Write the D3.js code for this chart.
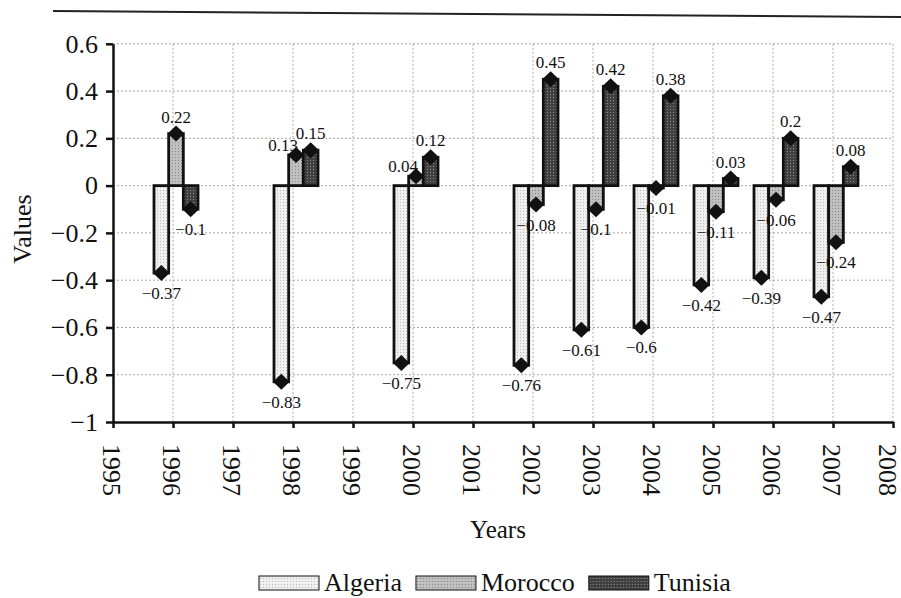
<!DOCTYPE html>
<html>
<head>
<meta charset="utf-8">
<script src="https://cdn.jsdelivr.net/npm/d3@7"></script>
<style>
  body { margin: 0; background: #fff; }
  svg { display: block; }
</style>
</head>
<body>
<div class="chart"></div>
<script>
// values
const series = ["Algeria", "Morocco", "Tunisia"];
const years = [1996, 1998, 2000, 2002, 2003, 2004, 2005, 2006, 2007];
const algeria = [-0.37, -0.83, -0.75, -0.76, -0.61, -0.6, -0.42, -0.39, -0.47];
const morocco = [0.22, 0.13, 0.04, -0.08, -0.1, -0.01, -0.11, -0.06, -0.24];
const tunisia = [-0.1, 0.15, 0.12, 0.45, 0.42, 0.38, 0.03, 0.2, 0.08];
const yTicks = [0.6, 0.4, 0.2, 0, -0.2, -0.4, -0.6, -0.8, -1];
const xTicks = d3.range(1995, 2009);

const W = 901, H = 598;
const plot = {left: 113, right: 893, top: 43.8, bottom: 422};
const serif = "'Liberation Serif', 'DejaVu Serif', serif";

const svg = d3.select(".chart").append("svg")
    .attr("width", W)
    .attr("height", H);

const x = d3.scaleLinear().domain([1995, 2008]).range([plot.left, plot.right]);
const y = d3.scaleLinear().domain([-1, 0.6]).range([plot.bottom, plot.top]);
const inner = d3.scaleBand().domain(series).range([-19, 25]);
const fmt = d3.format("~g");

// scanned-print look: light dotted fills
const fills = {
    Algeria: {base: "#efefef", dot: "#b9b9b9"},
    Morocco: {base: "#c0c0c0", dot: "#858585"},
    Tunisia: {base: "#404040", dot: "#8e8e8e"}
};
const defs = svg.append("defs");
series.forEach(s => {
    const p = defs.append("pattern")
        .attr("id", "pat-" + s)
        .attr("width", 3).attr("height", 3)
        .attr("patternUnits", "userSpaceOnUse");
    p.append("rect").attr("width", 3).attr("height", 3).attr("fill", fills[s].base);
    p.append("rect").attr("x", 1).attr("y", 1).attr("width", 1).attr("height", 1).attr("fill", fills[s].dot);
});

// page rule at the top of the scan
svg.append("line")
    .attr("x1", 53).attr("y1", 11).attr("x2", W).attr("y2", 17)
    .attr("stroke", "#222").attr("stroke-width", 2);

// grid
const grid = svg.append("g").attr("stroke", "#a5a5a5").attr("stroke-width", 1).attr("stroke-dasharray", "2,2");
grid.selectAll(".hg").data(yTicks.filter(d => d > -1)).join("line")
    .attr("x1", plot.left).attr("x2", plot.right)
    .attr("y1", d => y(d)).attr("y2", d => y(d));
grid.selectAll(".vg").data(xTicks.filter(d => d > 1995)).join("line")
    .attr("x1", d => x(d)).attr("x2", d => x(d))
    .attr("y1", plot.top).attr("y2", plot.bottom);

// bars
const rows = [];
years.forEach((yr, i) => {
    rows.push({year: yr, s: "Algeria", v: algeria[i]});
    rows.push({year: yr, s: "Morocco", v: morocco[i]});
    rows.push({year: yr, s: "Tunisia", v: tunisia[i]});
});
const bw = inner.bandwidth();
const cx = d => x(d.year) + inner(d.s) + bw / 2;

svg.append("g").selectAll("rect").data(rows).join("rect")
    .attr("x", d => x(d.year) + inner(d.s))
    .attr("width", bw)
    .attr("y", d => Math.min(y(0), y(d.v)))
    .attr("height", d => Math.abs(y(0) - y(d.v)))
    .attr("fill", d => "url(#pat-" + d.s + ")")
    .attr("stroke", "#111")
    .attr("stroke-width", 2.8);

// diamond markers at the bar ends
const hw = bw / 2 + 1, hh = 8;
svg.append("g").selectAll("path").data(rows).join("path")
    .attr("d", d => {
        const px = cx(d), py = y(d.v);
        return `M${px},${py - hh}L${px + hw},${py}L${px},${py + hh}L${px - hw},${py}Z`;
    })
    .attr("fill", "#111");

// morocco labels get squeezed left when tunisia is also above zero
const squeezed = d => d.s === "Morocco" && d.v > 0 &&
    rows.find(r => r.year === d.year && r.s === "Tunisia").v > 0;

const labels = svg.append("g").attr("font-size", 17);
labels.selectAll("text").data(rows).join("text")
    .attr("x", d => squeezed(d) ? cx(d) + 2 : cx(d))
    .attr("y", d => squeezed(d) ? y(d.v) - 4 : (d.v >= 0 ? y(d.v) - 11 : y(d.v) + 26))
    .attr("text-anchor", d => squeezed(d) ? "end" : "middle")
    .text(d => fmt(d.v));

// axes
const yAxis = svg.append("g")
    .attr("transform", `translate(${plot.left},0)`)
    .call(d3.axisLeft(y).tickValues(yTicks).tickFormat(fmt).tickSize(7).tickSizeOuter(0).tickPadding(8));
yAxis.select(".domain").attr("stroke", "#111").attr("stroke-width", 2.5);
yAxis.selectAll(".tick line").attr("stroke", "#111").attr("stroke-width", 2.5);
yAxis.selectAll(".tick text").attr("font-size", 26);

const xAxis = svg.append("g")
    .attr("transform", `translate(0,${plot.bottom})`)
    .call(d3.axisBottom(x).tickValues(xTicks).tickFormat(d => String(d)).tickSize(6).tickSizeOuter(0));
xAxis.select(".domain").attr("stroke", "#111").attr("stroke-width", 2.5);
xAxis.selectAll(".tick line").attr("stroke", "#111").attr("stroke-width", 2.5);
// last label sits on the page edge, nudge it in a little
xAxis.selectAll(".tick text")
    .attr("font-size", 26)
    .attr("transform", "rotate(90)")
    .attr("x", 22).attr("y", d => d === 2008 ? 6 : 2).attr("dy", "0.33em")
    .style("text-anchor", "start");

// axis titles
svg.append("text")
    .attr("transform", "translate(31,229) rotate(-90)")
    .attr("text-anchor", "middle")
    .attr("font-size", 26)
    .text("Values");
svg.append("text")
    .attr("x", 498).attr("y", 538)
    .attr("text-anchor", "middle")
    .attr("font-size", 25)
    .text("Years");

// legend
const legend = svg.append("g").attr("transform", "translate(259,583)");
let lx = 0;
series.forEach(s => {
    const g = legend.append("g").attr("transform", `translate(${lx},0)`);
    g.append("rect")
        .attr("x", 0).attr("y", -7).attr("width", 60).attr("height", 14)
        .attr("fill", "url(#pat-" + s + ")")
        .attr("stroke", "#111").attr("stroke-width", 1);
    const t = g.append("text")
        .attr("x", 65).attr("y", 8)
        .attr("font-size", 26)
        .style("font-family", serif)
        .text(s);
    lx += 65 + t.node().getComputedTextLength() + 14;
});

svg.selectAll("text").style("font-family", serif).attr("fill", "#111");
</script>
</body>
</html>
